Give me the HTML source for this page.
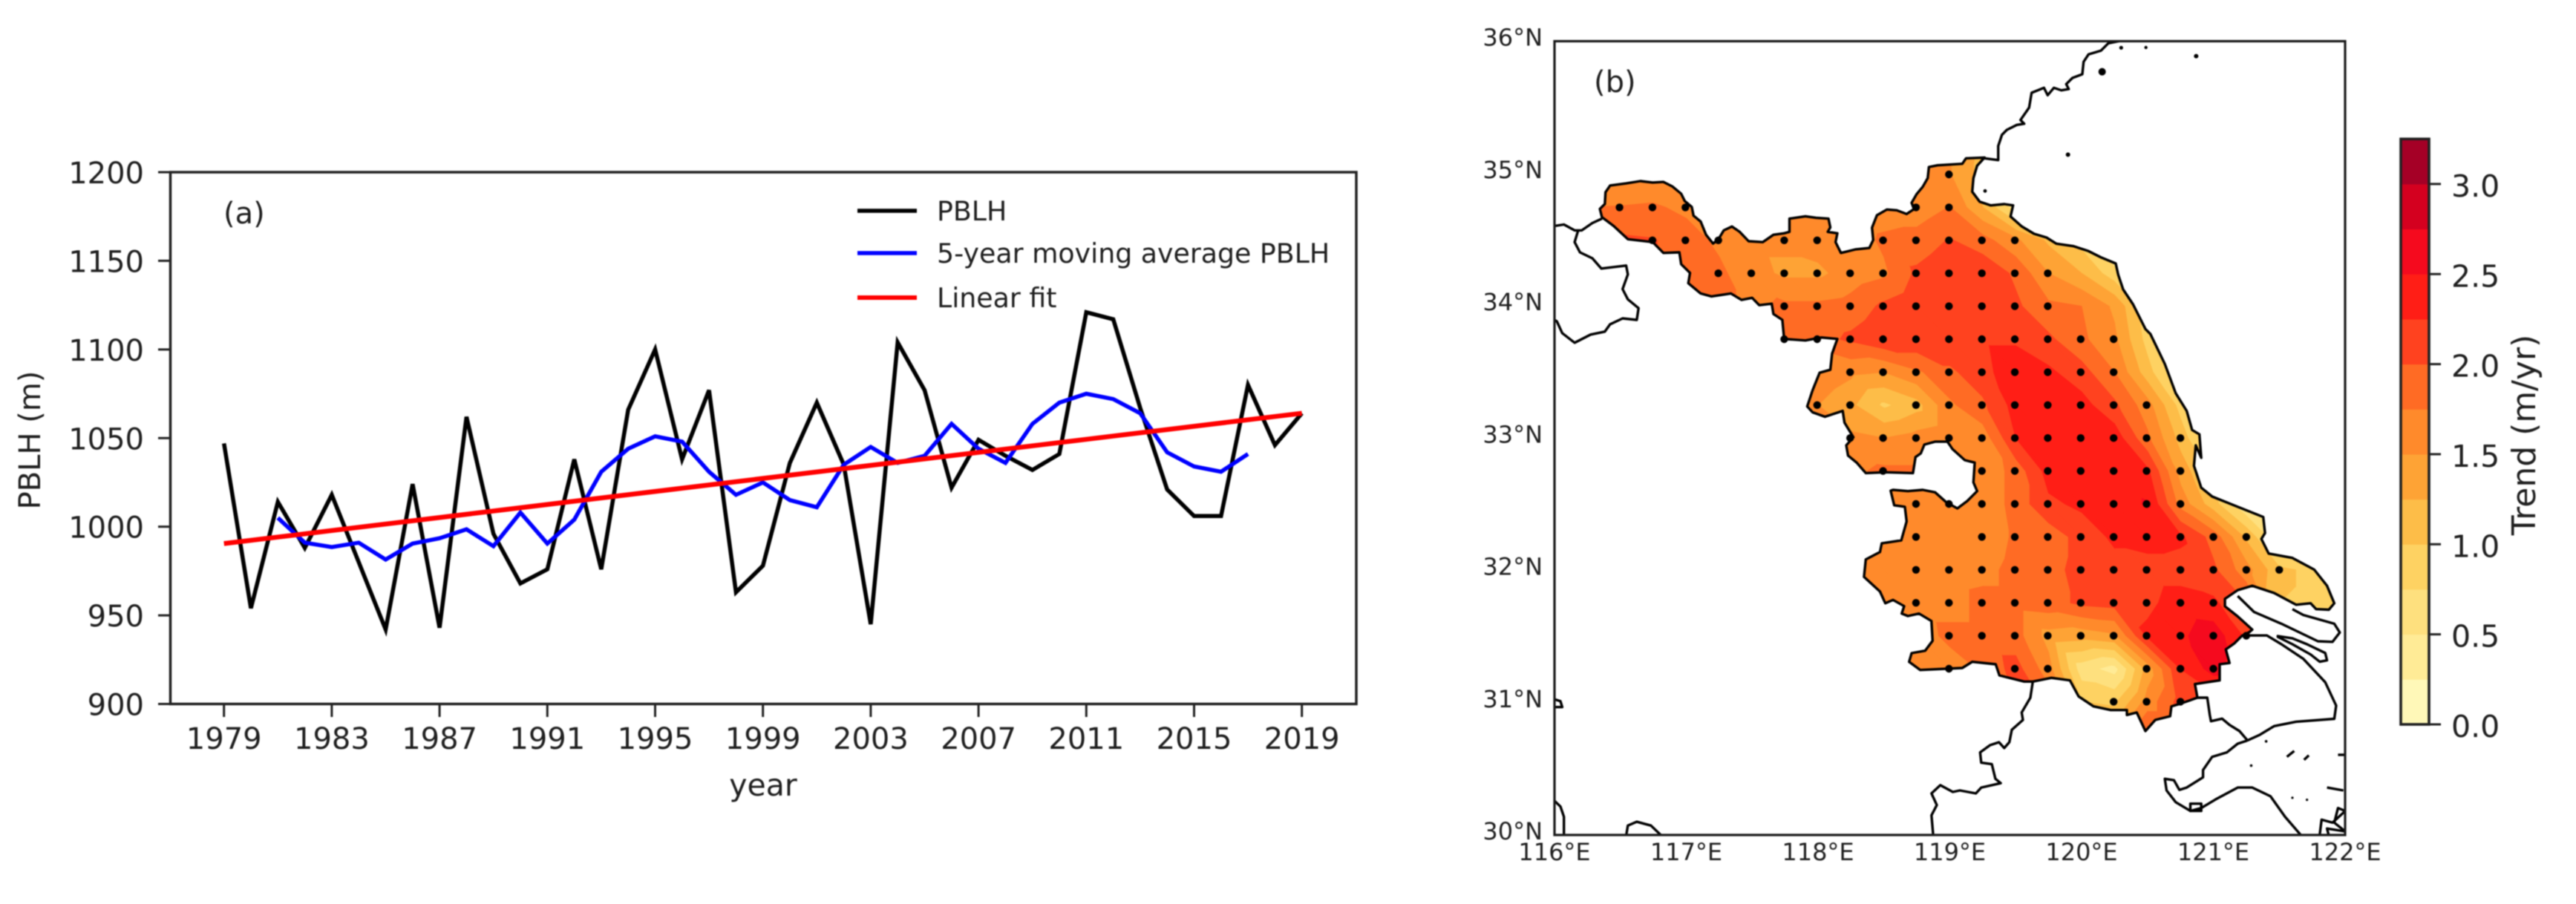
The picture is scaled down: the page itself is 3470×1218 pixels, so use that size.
<!DOCTYPE html>
<html><head><meta charset="utf-8"><title>PBLH trend</title>
<style>
html,body{margin:0;padding:0;background:#fff;width:3470px;height:1218px;overflow:hidden}
svg{display:block;filter:blur(0.8px)}
text{font-family:"DejaVu Sans","Liberation Sans",sans-serif;fill:#1f1f1f}
</style></head><body>
<svg id="fig" xmlns="http://www.w3.org/2000/svg" width="3470" height="1218" viewBox="0 0 3470 1218">
<rect width="3470" height="1218" fill="#fff"/>
<g id="lineChart">
<g id="series"></g>
<g id="ticksA"></g>
<rect x="229.5" y="232" width="1597.5" height="716.5" fill="none" stroke="#222" stroke-width="3.5"/>
<text x="301" y="301" font-size="40">(a)</text>
<text x="43" y="593" font-size="40" text-anchor="middle" transform="rotate(-90 43 593)" dominant-baseline="middle">PBLH (m)</text>
<text x="1028" y="1072" font-size="41" text-anchor="middle">year</text>
<g>
<line x1="1155" x2="1235" y1="284" y2="284" stroke="#000" stroke-width="5.5"/>
<text x="1262" y="297" font-size="36.3">PBLH</text>
<line x1="1155" x2="1235" y1="341" y2="341" stroke="#00f" stroke-width="5.5"/>
<text x="1262" y="354" font-size="36.3">5-year moving average PBLH</text>
<line x1="1155" x2="1235" y1="401" y2="401" stroke="#f00" stroke-width="6"/>
<text x="1262" y="414" font-size="36.3">Linear fit</text>
</g>
</g>
<g id="mapChart">
<defs>
<clipPath id="provClip"><path id="provClipPath" d=""/></clipPath>
<clipPath id="frameClip"><rect x="2094" y="55.5" width="1065" height="1069.5"/></clipPath>
</defs>
<g id="contours" clip-path="url(#provClip)"></g>
<g id="coast" clip-path="url(#frameClip)"></g>
<g id="dots"></g>
<rect x="2094" y="55.5" width="1065" height="1069.5" fill="none" stroke="#1a1a1a" stroke-width="3.2"/>
<text x="2147" y="124" font-size="40">(b)</text>
<g id="ticksB"></g>
</g>
<g id="cbar"></g>
<text x="3403" y="586" font-size="44" text-anchor="middle" dominant-baseline="middle" transform="rotate(-90 3403 586)">Trend (m/yr)</text>
</svg>
<script>
const NS = 'http://www.w3.org/2000/svg';
/* ---------- panel (a) data ---------- */
const years = [1979,1980,1981,1982,1983,1984,1985,1986,1987,1988,1989,1990,1991,1992,1993,1994,1995,1996,1997,1998,1999,2000,2001,2002,2003,2004,2005,2006,2007,2008,2009,2010,2011,2012,2013,2014,2015,2016,2017,2018,2019];
const pblhValues = [1047,954,1014,988,1018,980,942,1024,943,1062,996,968,976,1038,976,1066,1100,1038,1077,963,978,1036,1070,1035,945,1104,1077,1022,1049,1040,1032,1041,1121,1117,1067,1021,1006,1006,1080,1046,1064];
const movingYears = [1981,1982,1983,1984,1985,1986,1987,1988,1989,1990,1991,1992,1993,1994,1995,1996,1997,1998,1999,2000,2001,2002,2003,2004,2005,2006,2007,2008,2009,2010,2011,2012,2013,2014,2015,2016,2017];
const movingValues = [1005,991,988.5,991,981.5,990.5,993.5,998.5,989,1008,990.5,1004,1031,1044,1051,1048,1031,1018,1025,1015,1011,1035,1045,1036,1040,1058,1044,1036,1058,1070,1075,1072,1064,1042,1034,1031,1041];
const fitYears = [1979,2019];
const fitValues = [990.5,1064];
const xTickYears = [1979,1983,1987,1991,1995,1999,2003,2007,2011,2015,2019];
const yTickValues = [900,950,1000,1050,1100,1150,1200];
/* ---------- panel (b) data ---------- */
const gridLons = [116.25,116.5,116.75,117,117.25,117.5,117.75,118,118.25,118.5,118.75,119,119.25,119.5,119.75,120,120.25,120.5,120.75,121,121.25,121.5,121.75,122];
const gridLats = [35.25,35,34.75,34.5,34.25,34,33.75,33.5,33.25,33,32.75,32.5,32.25,32,31.75,31.5,31.25,31,30.75,30.5];
const trendRows = [
[1.5,1.5,1.5,1.5,1.5,1.5,1.5,1.5,1.5,1.5,1.55,1.5,1.2,.6,.3,.2,.2,.2,.2,.2,.2,.2,.2,.2],
[1.55,1.55,1.55,1.55,1.55,1.55,1.55,1.55,1.55,1.55,1.6,1.52,1.15,.4,.2,.2,.2,.2,.2,.2,.2,.2,.2,.2],
[1.75,1.76,1.78,1.7,1.55,1.5,1.55,1.55,1.55,1.6,1.6,1.76,1.25,.6,.25,.2,.2,.2,.2,.2,.2,.2,.2,.2],
[2.05,2.05,2.02,1.85,1.7,1.55,1.55,1.6,1.6,1.8,1.85,2.02,1.85,1.55,1.2,.9,.3,.2,.2,.2,.2,.2,.2,.2],
[1.9,1.9,1.9,1.85,1.8,1.6,1.45,1.45,1.6,1.7,2.05,2.2,2.2,1.95,1.5,1.25,.85,.35,.2,.2,.2,.2,.2,.2],
[1.8,1.8,1.8,1.8,1.8,1.7,1.8,1.8,1.85,2.05,2.2,2.2,2.2,2.05,1.8,1.75,1.45,.8,.3,.2,.2,.2,.2,.2],
[1.8,1.8,1.8,1.8,1.8,1.85,1.85,1.9,2.05,2.2,2.2,2.2,2.2,2.2,2.05,1.8,1.55,.9,.4,.2,.2,.2,.2,.2],
[1.8,1.8,1.8,1.8,1.8,1.8,1.8,1.7,1.55,1.5,1.7,1.95,2.15,2.45,2.3,2.1,1.75,1.1,.5,.2,.2,.2,.2,.2],
[1.7,1.7,1.7,1.7,1.7,1.7,1.6,1.5,1.3,.95,1.15,1.7,1.95,2.35,2.4,2.35,2.05,1.6,.9,.3,.2,.2,.2,.2],
[1.7,1.7,1.7,1.7,1.7,1.7,1.7,1.7,1.55,1.5,1.6,1.7,1.6,2.25,2.4,2.4,2.4,1.8,1.15,.5,.2,.2,.2,.2],
[1.7,1.7,1.7,1.7,1.7,1.7,1.7,1.7,1.7,1.8,1.8,1.6,1.55,1.85,2.35,2.4,2.4,2.3,1.4,.9,.4,.2,.2,.2],
[1.6,1.6,1.6,1.6,1.6,1.6,1.6,1.6,1.6,1.6,1.55,1.6,1.55,1.85,2.2,2.3,2.4,2.52,1.65,1.1,.5,.2,.2,.2],
[1.55,1.55,1.55,1.55,1.55,1.55,1.55,1.55,1.55,1.55,1.55,1.55,1.55,1.8,1.85,2.1,2.3,2.35,2.3,1.9,1.2,.5,.2,.2],
[1.6,1.6,1.6,1.6,1.6,1.6,1.6,1.6,1.6,1.6,1.6,1.6,1.65,1.85,1.9,2.1,2.15,2.15,2.15,2.05,1.6,1.05,.95,.8],
[1.6,1.6,1.6,1.6,1.6,1.6,1.6,1.6,1.6,1.6,1.6,1.6,1.85,1.85,1.9,2.05,2.1,2.2,2.35,2.3,2.0,1.0,.95,.8],
[1.55,1.55,1.55,1.55,1.55,1.55,1.55,1.55,1.55,1.55,1.55,1.85,1.85,1.85,1.4,1.35,1.45,2.3,2.45,2.65,2.2,1.5,1.0,.8],
[1.5,1.5,1.5,1.5,1.5,1.5,1.5,1.5,1.5,1.5,1.5,1.55,1.8,2.1,1.6,.6,.4,1.35,2.25,2.6,2.3,1.5,1.0,.8],
[1.5,1.5,1.5,1.5,1.5,1.5,1.5,1.5,1.5,1.5,1.5,1.6,1.75,2.0,1.9,1.0,.95,1.6,2.1,2.1,2.1,1.5,1.0,.8],
[1.5,1.5,1.5,1.5,1.5,1.5,1.5,1.5,1.5,1.5,1.5,1.5,1.6,1.7,1.5,1.2,1.3,2.1,2.1,2.1,2.1,1.5,1.0,.8],
[1.5,1.5,1.5,1.5,1.5,1.5,1.5,1.5,1.5,1.5,1.5,1.5,1.6,1.7,1.5,1.2,1.3,2.1,2.1,2.1,2.1,1.5,1.0,.8]
];
const dotLats = [35,34.75,34.5,34.25,34,33.75,33.5,33.25,33,32.75,32.5,32.25,32,31.75,31.5,31.25,31];
const dotLons = [
[119],
[116.5,116.75,117,118.75,119],
[116.75,117,117.25,117.75,118,118.5,118.75,119,119.25,119.5],
[117.25,117.5,117.75,118,118.25,118.5,118.75,119,119.25,119.5,119.75],
[117.75,118,118.25,118.5,118.75,119,119.25,119.5,119.75],
[117.75,118,118.25,118.5,118.75,119,119.25,119.5,119.75,120,120.25],
[118.25,118.5,118.75,119,119.25,119.5,119.75,120,120.25],
[118,118.25,118.75,119,119.25,119.5,119.75,120,120.25,120.5],
[118.25,118.5,118.75,119,119.25,119.5,119.75,120,120.25,120.5,120.75],
[118.5,119.25,119.5,119.75,120,120.25,120.5,120.75],
[118.75,119,119.25,119.5,119.75,120,120.25,120.5,120.75],
[118.75,119.25,119.5,119.75,120,120.25,120.5,120.75,121,121.25],
[118.75,119,119.25,119.5,119.75,120,120.25,120.5,120.75,121,121.25,121.5],
[118.75,119,119.25,119.5,119.75,120,120.25,120.5,120.75,121],
[119,119.25,119.5,119.75,120,120.25,120.5,120.75,121,121.25],
[119,119.5,119.75,120.5,120.75,121],
[120.25,120.5,120.75]
];
const levels = [0,.25,.5,.75,1,1.25,1.5,1.75,2,2.25,2.5,2.75,3,3.25];
const bandColors = ['#fff8b8','#ffeb96','#fee07e','#fed262','#fdbd48','#fea335','#ff8a2b','#ff6b24','#ff421f','#ff1e16','#f50a1e','#d4001f','#a50026'];
const cbarTicks = [0,.5,1,1.5,2,2.5,3];
const mapLonTicks = [116,117,118,119,120,121,122];
const mapLatTicks = [36,35,34,33,32,31,30];

/* ---------- axis functions ---------- */
function xA(y){return 301.7+36.3*(y-1979);}
function yA(v){return 948.5-(v-900)*716.5/300;}
function lonX(l){return 2094+(l-116)*177.5;}
function latY(l){return 235+(35-l)*177.6;}
function tickLatY(l){return 55.5+(36-l)*178.25;}
function dotX(l){return lonX(l)-(l<=120.5?1.2:0);}
function cbarY(v){return 976-v*242.7;}

const sr = document.getElementById('series');
function polyD(xs,ys){return xs.map((x,i)=>(i?'L':'M')+xA(x).toFixed(1)+' '+yA(ys[i]).toFixed(1)).join('');}
const lineBlack = document.createElementNS(NS,'path');
lineBlack.setAttribute('d',polyD(years,pblhValues));
lineBlack.setAttribute('fill','none');lineBlack.setAttribute('stroke','#000');lineBlack.setAttribute('stroke-width','5.5');


sr.appendChild(lineBlack);
const lineBlue = document.createElementNS(NS,'path');
lineBlue.setAttribute('d',polyD(movingYears,movingValues));
lineBlue.setAttribute('fill','none');lineBlue.setAttribute('stroke','#00f');lineBlue.setAttribute('stroke-width','5.5');


sr.appendChild(lineBlue);
const lineRed = document.createElementNS(NS,'path');
lineRed.setAttribute('d',polyD(fitYears,fitValues));
lineRed.setAttribute('fill','none');lineRed.setAttribute('stroke','#f00');lineRed.setAttribute('stroke-width','6.5');


sr.appendChild(lineRed);

function addTick(parent,x1,y1,x2,y2,w,name){
  const t=document.createElementNS(NS,'line');
  t.setAttribute('x1',x1);t.setAttribute('y1',y1);t.setAttribute('x2',x2);t.setAttribute('y2',y2);
  t.setAttribute('stroke','#222');t.setAttribute('stroke-width',w);
  
  
  parent.appendChild(t);
}
function addLabel(parent,x,y,str,size,anchor,name){
  const t=document.createElementNS(NS,'text');
  t.setAttribute('x',x);t.setAttribute('y',y);t.setAttribute('font-size',size);t.setAttribute('text-anchor',anchor);
  t.textContent=str;
  
  
  parent.appendChild(t);
}
const ta=document.getElementById('ticksA');
xTickYears.forEach(y=>{
  addTick(ta,xA(y),948.5,xA(y),966,3,'x-tick');
  addLabel(ta,xA(y),1009,String(y),40,'middle','x-tick-label');
});
yTickValues.forEach(v=>{
  addTick(ta,229.5,yA(v),213,yA(v),3,'y-tick');
  addLabel(ta,194,yA(v)+15,String(v),40,'end','y-tick-label');
});

/* ---------- filled contours from the trend grid ---------- */
function clipVal(poly,lim,keepAbove){
  const out=[];
  for(let i=0;i<poly.length;i++){
    const a=poly[i],b=poly[(i+1)%poly.length];
    const ia=keepAbove?a[2]>=lim:a[2]<lim, ib=keepAbove?b[2]>=lim:b[2]<lim;
    if(ia)out.push(a);
    if(ia!==ib){const t=(lim-a[2])/(b[2]-a[2]);out.push([a[0]+t*(b[0]-a[0]),a[1]+t*(b[1]-a[1]),lim]);}
  }
  return out;
}
const bandPaths=bandColors.map(()=>[]);
for(let r=0;r<gridLats.length-1;r++){
  for(let c=0;c<gridLons.length-1;c++){
    const p=(i,j)=>[lonX(gridLons[j]),latY(gridLats[i]),trendRows[i][j]];
    const A=p(r,c),B=p(r,c+1),C=p(r+1,c+1),D=p(r+1,c);
    [[A,B,C],[A,C,D]].forEach(tri=>{
      bandColors.forEach((col,k)=>{
        let poly=clipVal(tri,levels[k],true);
        if(poly.length<3)return;
        poly=clipVal(poly,levels[k+1],false);
        if(poly.length<3)return;
        bandPaths[k].push('M'+poly.map(q=>q[0].toFixed(1)+' '+q[1].toFixed(1)).join('L')+'Z');
      });
    });
  }
}
const contourG=document.getElementById('contours');
bandColors.forEach((col,k)=>{
  if(!bandPaths[k].length)return;
  const el=document.createElementNS(NS,'path');
  el.setAttribute('d',bandPaths[k].join(''));
  el.setAttribute('fill',col);el.setAttribute('stroke',col);el.setAttribute('stroke-width','1');
  
  
  contourG.appendChild(el);
});

/* ---------- basemap traced outlines ---------- */
const crop={a:[1980,0,.4783,.3954],b:[2700,0,.4911,.3954],c:[1980,600,.4783,.3941],d:[2700,600,.4911,.3941],e:[2550,600,1/3,1/3],f:[2500,50,1/3,1/3]};
function pts(key,str){
  const k=crop[key];
  return str.trim().split(/\s+/).map(s=>{const q=s.split(',');return [(k[0]+q[0]*k[2]).toFixed(1),(k[1]+q[1]*k[3]).toFixed(1)].join(' ');});
}
const province=[].concat(
 pts('a','372,740 366,712 380,695 382,655 395,632 440,625 480,617 515,622 545,620 570,635 595,660 605,685 625,705 630,735 650,755 665,800 685,830 700,815 715,785 738,772 760,790 785,822 825,825 855,800 885,795 900,790 900,745 945,737 975,742 1010,745 1015,775 1008,790 1035,795 1030,825 1045,862 1085,850 1125,845'),
 pts('f','70,820 65,770 85,720 125,697 165,700 205,715 235,695 225,670 245,635 270,605 290,570 295,525 330,518 430,512 445,490 520,487 490,520 475,570 470,625 500,665 545,680 600,675 635,680 625,725 670,765 720,795 770,810 810,835 880,845 940,865 990,890 1050,915 1060,960 1080,1020 1120,1080 1170,1180 1190,1200'),
 pts('b','440,1240 470,1340 500,1400 515,1465 535,1480 540,1560'),
 pts('d','525,0 520,70 540,145 570,175 640,210 710,245 715,300 705,320 725,370 790,385 850,425 885,480 905,540 890,562 855,560 840,540 800,545 740,505 680,480 640,495 605,525 605,550 640,585 680,630'),
 pts('e','1440,755 1410,770 1380,800 1345,825 1360,880 1320,885 1320,950 1220,965 1230,1020 1160,1045 1125,1055 1120,1095 1060,1110 1020,1155 985,1080 945,1090 945,1070 880,1070 810,1055 750,1015 715,950 640,940 565,955 530,955 430,930 415,885 320,875 280,900 110,908 65,875 75,840 130,830 160,790 155,710 105,680 60,690 35,680 45,650 0,625'),
 pts('c','1170,540 1155,500 1110,450 1115,390 1155,365 1160,335 1215,325 1230,260 1225,210 1195,205 1185,155'),
 pts('e','0,180 60,185 120,180 170,190 215,230 260,255 300,225 340,185 325,150 330,70 290,60 240,15 230,0'),
 pts('a','1345,1505 1310,1505 1280,1515 1270,1545'),
 pts('c','1255,40 1248,95 1170,92 1115,95 1090,60 1065,35 1060,0'),
 pts('a','1080,1490 1055,1440 1050,1400 1000,1420 965,1405 950,1385 965,1330 985,1270 1015,1260 1020,1205 1035,1155 990,1150 945,1160 885,1155 880,1090 855,1070 850,1035 815,1040 795,1015 765,1022 735,1000 680,1010 650,1000 615,965 620,930 595,900 590,860 545,862 515,825 445,815 405,770')
);
const provinceD='M'+province.join('L')+'Z';
document.getElementById('provClipPath').setAttribute('d',provinceD);
const coastG=document.getElementById('coast');
function addCoast(d,name){
  const el=document.createElementNS(NS,'path');
  el.setAttribute('d',d);el.setAttribute('fill','none');el.setAttribute('stroke','#000');el.setAttribute('stroke-width','3.4');el.setAttribute('stroke-linejoin','round');
  
  
  coastG.appendChild(el);
}
addCoast(provinceD,'jiangsu-outline');
addCoast('M'+pts('f','520,490 575,497 575,440 590,395 610,375 650,355 680,350 665,335 700,285 710,225 760,205 775,235 800,205 830,215 860,210 850,190 875,165 915,150 920,100 940,70 990,55 1020,25 1070,15').join('L'),'shandong-coast');
addCoast('M'+pts('a','238,770 265,765 295,785 315,785 345,760 372,745').join('L'),'west-border-north');
addCoast('M'+pts('a','305,785 295,825 310,860 345,880 370,915 440,905 445,935 430,985 445,1020 475,1050 470,1090 430,1085 395,1105 380,1130 340,1140 295,1168 260,1135 245,1095 238,1090').join('L'),'west-border-south');
addCoast('M'+pts('c','238,1215 255,1235 265,1270 265,1335').join('L'),'lake-left');
addCoast('M'+pts('c','440,1335 445,1300 470,1287 510,1300 540,1335').join('L'),'lake-bottom');
addCoast('M'+pts('c','238,868 255,875 260,895 238,895').join('L'),'border-fragment');
addCoast('M'+pts('e','565,955 555,1020 520,1080 525,1110 480,1150 470,1200').concat(pts('c','1505,1035 1490,1015 1465,1025 1437,1050 1440,1085 1470,1090 1480,1140 1495,1155 1440,1170 1425,1190 1380,1180 1360,1185 1325,1162 1300,1190 1315,1230 1300,1265 1305,1335')).join('L'),'south-border');
addCoast('M'+pts('e','1230,1020 1270,1020 1280,1090 1285,1115 1330,1105 1360,1130 1400,1155 1430,1190').concat(pts('d','665,1010')).join('L'),'shanghai-border');
addCoast('M'+pts('d','665,1010 700,990 740,960 800,945 905,935 910,890 880,810 820,730 760,680 720,650 665,650').join('L'),'shanghai-coast');
addCoast('M'+pts('d','640,515 685,570 760,610 860,670 900,672 920,640 905,610 820,580 790,560').join('L'),'chongming-island');
addCoast('M'+pts('d','750,652 790,660 830,680 880,710 885,735 865,740 840,715 790,680 750,655').join('L')+'Z','changxing-island');
addCoast('M'+pts('d','665,1010 640,1020 610,1050 570,1065 545,1110 545,1135 500,1170 480,1178 465,1145 440,1140 445,1180 470,1220 510,1250 540,1240 580,1210 640,1170 680,1170 730,1200 770,1270 815,1335').join('L'),'hangzhou-bay-coast');
addCoast('M'+pts('d','510,1225 540,1225 540,1250 510,1250').join('L')+'Z','bay-island');
addCoast('M'+pts('d','885,1170 930,1180').join('L'),'island-a');
addCoast('M'+pts('d','865,1330 870,1280 900,1290 935,1250 915,1240 905,1290 935,1320 885,1310 890,1335').join('L'),'island-cluster');
addCoast('M'+pts('d','775,1065 795,1045').join('L'),'islet-a');
addCoast('M'+pts('d','822,1075 835,1060').join('L'),'islet-b');
addCoast('M'+pts('d','915,1058 935,1058').join('L'),'islet-c');

/* small islets */
[['f',995,140,5],['f',857,475,3],['f',1172,42,2.2],['f',1375,77,3],['f',1072,43,2.6],['f',522,622,2.4],['d',677,1095,1.8],['d',718,1012,1.8],['d',790,1205,1.6],['d',830,1212,1.6]].forEach(q=>{
  const k=crop[q[0]];
  const e=document.createElementNS(NS,'circle');
  e.setAttribute('cx',k[0]+q[1]*k[2]);e.setAttribute('cy',k[1]+q[2]*k[3]);e.setAttribute('r',q[3]);e.setAttribute('fill','#000');
  
  
  coastG.appendChild(e);
});

/* ---------- stippling ---------- */
const dotG=document.getElementById('dots');
dotLats.forEach((lat,i)=>{
  dotLons[i].forEach(lon=>{
    const e=document.createElementNS(NS,'circle');
    e.setAttribute('cx',dotX(lon));e.setAttribute('cy',latY(lat));e.setAttribute('r','5.2');e.setAttribute('fill','#000');
    
    
    dotG.appendChild(e);
  });
});

/* ---------- map tick labels ---------- */
const tb=document.getElementById('ticksB');
mapLonTicks.forEach(l=>addLabel(tb,lonX(l),1159,l+'°E',32,'middle','longitude-label'));
mapLatTicks.forEach(l=>addLabel(tb,2078,tickLatY(l)+6,l+'°N',32,'end','latitude-label'));

/* ---------- colorbar ---------- */
const cb=document.getElementById('cbar');
bandColors.forEach((col,k)=>{
  const e=document.createElementNS(NS,'rect');
  e.setAttribute('x',3234);e.setAttribute('width',38);
  e.setAttribute('y',cbarY(levels[k+1]));e.setAttribute('height',cbarY(levels[k])-cbarY(levels[k+1])+.5);
  e.setAttribute('fill',col);
  
  
  cb.appendChild(e);
});
const frame=document.createElementNS(NS,'rect');
frame.setAttribute('x',3234);frame.setAttribute('width',38);frame.setAttribute('y',cbarY(3.25));frame.setAttribute('height',cbarY(0)-cbarY(3.25));
frame.setAttribute('fill','none');frame.setAttribute('stroke','#222');frame.setAttribute('stroke-width','3.6');


cb.appendChild(frame);
cbarTicks.forEach(v=>{
  addTick(cb,3272,cbarY(v),3288,cbarY(v),3,'colorbar-tick');
  addLabel(cb,3302,cbarY(v)+17,v.toFixed(1),41,'start','colorbar-tick-label');
});
</script>
</body></html>
